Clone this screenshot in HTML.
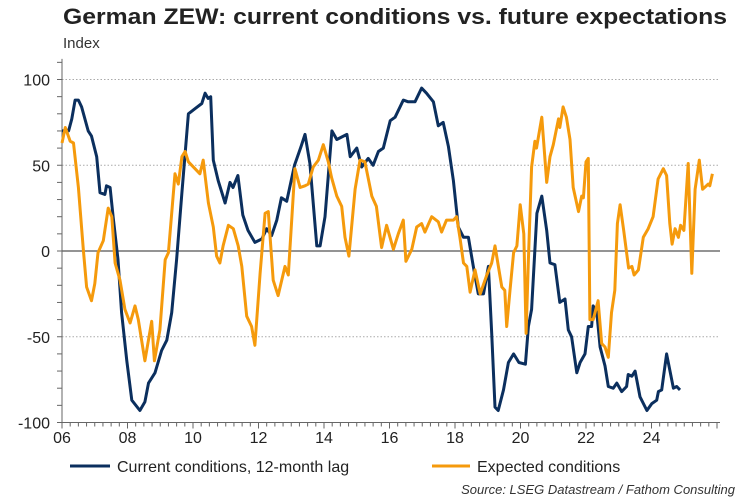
<!DOCTYPE html>
<html><head><meta charset="utf-8"><style>
body{margin:0;background:#fff;width:750px;height:500px;overflow:hidden;font-family:"Liberation Sans",Arial,sans-serif}
svg{display:block}
</style></head><body>
<svg id="chart" width="750" height="500">
<text x="63" y="24" font-size="22" font-weight="bold" fill="#222" textLength="664" lengthAdjust="spacingAndGlyphs">German ZEW: current conditions vs. future expectations</text>
<text x="63" y="48" font-size="15" fill="#333">Index</text>
<g id="grid"></g><g id="axes"></g><g id="series"></g>
<g>
<line x1="70" y1="466" x2="110" y2="466" stroke="#0b2f5e" stroke-width="3"/>
<text x="117" y="472" font-size="16" fill="#222">Current conditions, 12-month lag</text>
<line x1="432" y1="466" x2="470" y2="466" stroke="#f59a0c" stroke-width="3"/>
<text x="477" y="472" font-size="16" fill="#222">Expected conditions</text>
</g>
<text x="735" y="494" font-size="13" font-style="italic" fill="#333" text-anchor="end">Source: LSEG Datastream / Fathom Consulting</text>
</svg>
<script>
const curDates=[2006.0,2006.2,2006.3,2006.4,2006.5,2006.6,2006.8,2006.9,2007.06,2007.16,2007.31,2007.36,2007.47,2007.56,2007.71,2007.82,2007.98,2008.13,2008.38,2008.53,2008.64,2008.84,2009.04,2009.2,2009.35,2009.5,2009.66,2009.86,2010.06,2010.27,2010.37,2010.46,2010.54,2010.62,2010.77,2010.98,2011.13,2011.22,2011.37,2011.52,2011.68,2011.89,2012.1,2012.25,2012.4,2012.56,2012.7,2012.86,2013.1,2013.3,2013.42,2013.57,2013.78,2013.88,2014.03,2014.24,2014.39,2014.7,2014.8,2015.0,2015.15,2015.35,2015.5,2015.66,2015.81,2016.02,2016.17,2016.42,2016.57,2016.78,2016.98,2017.13,2017.34,2017.49,2017.64,2017.8,2017.95,2018.1,2018.26,2018.41,2018.56,2018.71,2018.87,2019.02,2019.12,2019.22,2019.32,2019.48,2019.63,2019.79,2019.95,2020.15,2020.24,2020.34,2020.5,2020.65,2020.8,2020.9,2021.05,2021.2,2021.36,2021.46,2021.56,2021.72,2021.82,2021.97,2022.07,2022.17,2022.22,2022.33,2022.43,2022.58,2022.68,2022.83,2022.94,2023.09,2023.24,2023.29,2023.4,2023.5,2023.65,2023.86,2024.01,2024.16,2024.21,2024.31,2024.46,2024.67,2024.77,2024.87];
const curValues=[70,70,77,88,88,84,70,67,55,34,33,38,37,20,-5,-36,-64,-87,-93,-88,-77,-71,-58,-52,-36,-5,34,80,83,86,92,89,90,53,41,28,40,37,44,21,12,5,7,13,9,18,31,29,50,61,68,51,3,3,20,70,65,68,55,60,49,54,50,58,60,76,78,88,87,87,95,92,87,73,75,61,41,14,8,8,-9,-25,-25,-9,-48,-91,-93,-81,-65,-60,-65,-66,-44,-34,22,32,12,-7,-8,-30,-28,-46,-50,-71,-65,-60,-44,-44,-32,-36,-56,-67,-79,-80,-77,-82,-79,-72,-73,-70,-85,-93,-89,-87,-82,-81,-60,-80,-79,-81];
const expDates=[2006.0,2006.1,2006.25,2006.35,2006.5,2006.65,2006.75,2006.9,2007.0,2007.1,2007.26,2007.41,2007.52,2007.62,2007.77,2007.92,2008.08,2008.23,2008.33,2008.53,2008.74,2008.82,2008.99,2009.15,2009.25,2009.45,2009.55,2009.66,2009.76,2009.86,2010.06,2010.21,2010.31,2010.47,2010.62,2010.72,2010.82,2010.92,2011.08,2011.23,2011.38,2011.49,2011.64,2011.79,2011.89,2012.05,2012.2,2012.3,2012.45,2012.6,2012.81,2012.91,2013.11,2013.27,2013.42,2013.52,2013.67,2013.83,2013.98,2014.13,2014.23,2014.39,2014.54,2014.64,2014.76,2014.95,2015.1,2015.25,2015.46,2015.6,2015.76,2015.91,2016.12,2016.27,2016.42,2016.5,2016.68,2016.83,2016.98,2017.08,2017.29,2017.49,2017.59,2017.74,2017.95,2018.05,2018.15,2018.26,2018.36,2018.46,2018.61,2018.77,2018.97,2019.12,2019.22,2019.43,2019.52,2019.58,2019.68,2019.79,2019.89,2019.99,2020.1,2020.17,2020.24,2020.34,2020.44,2020.49,2020.65,2020.8,2020.9,2021.0,2021.16,2021.2,2021.3,2021.4,2021.51,2021.61,2021.77,2021.87,2021.92,2022.0,2022.07,2022.12,2022.22,2022.37,2022.48,2022.58,2022.68,2022.78,2022.88,2022.96,2023.04,2023.15,2023.3,2023.4,2023.47,2023.6,2023.75,2023.9,2024.05,2024.2,2024.36,2024.46,2024.56,2024.63,2024.72,2024.82,2024.89,2024.99,2025.12,2025.23,2025.33,2025.46,2025.56,2025.73,2025.78,2025.86];
const expValues=[63,72,64,63,37,1,-21,-29,-19,-1,6,25,20,-7,-17,-34,-42,-32,-40,-64,-41,-64,-46,-5,-1,45,39,55,58,52,48,45,53,28,14,-3,-7,3,15,13,3,-9,-38,-44,-55,-13,22,23,-17,-26,-9,-14,48,37,38,39,49,53,62,52,43,32,26,8,-3,36,53,52,32,26,2,15,1,10,18,-6,1,14,16,11,20,17,11,18,18,20,8,-7,-9,-24,-11,-25,-14,-7,3,-21,-23,-44,-23,-1,3,27,10,-48,-5,49,64,60,78,40,55,62,77,72,84,78,65,37,23,32,31,52,54,-40,-40,-29,-54,-56,-62,-36,-23,16,27,12,-10,-9,-14,-11,8,13,20,42,48,44,16,4,13,8,15,12,51,-13,36,53,36,39,38,45];
const yTicks=[100,50,0,-50,-100];
const xTickLabels=["06","08","10","12","14","16","18","20","22","24"];
const NS="http://www.w3.org/2000/svg";
const X0=62,PXY=32.75,Y0=251,PXU=1.715,XR=720;
const xs=d=>X0+(d-2006)*PXY, ys=v=>Y0-v*PXU;
function mk(tag,attrs,parent){const e=document.createElementNS(NS,tag);for(const k in attrs)e.setAttribute(k,attrs[k]);parent.appendChild(e);return e;}
const grid=document.getElementById('grid'),axes=document.getElementById('axes'),ser=document.getElementById('series');
yTicks.forEach(v=>{
  if(v!==-100){const l=mk('line',{x1:X0,x2:XR,y1:ys(v),y2:ys(v),stroke:v===0?'#555':'#aaa','stroke-width':v===0?1.2:1,'stroke-dasharray':v===0?'':'1.5,2'},grid);
  
  }
  const t=mk('text',{x:50,y:ys(v)+6,'font-size':16,'text-anchor':'end',fill:'#222'},axes);t.textContent=v;
  
  
});
for(let v=-100;v<=110;v+=10){mk('line',{x1:X0-5,x2:X0,y1:ys(v),y2:ys(v),stroke:'#666'},axes);}
const ya=mk('line',{x1:X0,x2:X0,y1:ys(112),y2:ys(-100),stroke:'#666'},axes);


const xa=mk('line',{x1:X0,x2:XR,y1:ys(-100),y2:ys(-100),stroke:'#666'},axes);


for(let d=2006;d<=2026;d+=0.25){mk('line',{x1:xs(d),x2:xs(d),y1:ys(-100),y2:ys(-100)+(d%2===0?6:4),stroke:'#666'},axes);}
xTickLabels.forEach((s,i)=>{const t=mk('text',{x:xs(2006+2*i),y:443,'font-size':16,'text-anchor':'middle',fill:'#222'},axes);t.textContent=s;
  
  });
function line(dates,vals,color,name){const d=dates.map((dt,i)=>(i?'L':'M')+xs(dt).toFixed(1)+','+ys(vals[i]).toFixed(1)).join('');
  const p=mk('path',{d:d,fill:'none',stroke:color,'stroke-width':3,'stroke-linejoin':'round'},ser);
  
  }
line(curDates,curValues,'#0b2f5e','current-conditions-line');
line(expDates,expValues,'#f59a0c','expected-conditions-line');
</script>
</body></html>
